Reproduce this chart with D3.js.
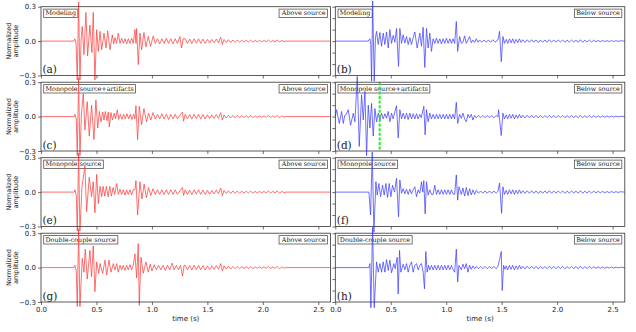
<!DOCTYPE html>
<html><head><meta charset="utf-8">
<script src="https://cdn.jsdelivr.net/npm/d3@7"></script>
<style>body{margin:0;background:#fff}</style></head>
<body>
<script>
// ---------- data (time in s, normalized amplitude) ----------
const traceA=[[0,0],[0.295,0],[0.305,0.02],[0.316,-0.02],[0.327,-0.34],[0.339,0.34],[0.351,-0.34],[0.362,0.02],[0.372,0.127],[0.387,-0.118],[0.405,0.25],[0.420,-0.13],[0.441,0.14],[0.459,-0.10],[0.471,0.25],[0.486,-0.34],[0.502,0.10],[0.517,-0.09],[0.532,0.085],[0.547,-0.075],[0.568,0.07],[0.586,-0.06],[0.601,0.09],[0.622,-0.075],[0.643,0.055],[0.655,-0.025],[0.667,0.03],[0.682,-0.02],[0.697,0.07],[0.712,-0.02],[0.727,0.025],[0.742,-0.02],[0.757,0.02],[0.772,-0.025],[0.787,0.02],[0.802,-0.02],[0.817,0.025],[0.832,-0.02],[0.847,0.10],[0.856,-0.02],[0.862,0.11],[0.877,-0.205],[0.892,0.07],[0.907,-0.075],[0.928,0.075],[0.946,-0.05],[0.967,0.04],[0.988,-0.045],[1.012,0.045],[1.03,-0.02],[1.05,0.02],[1.07,-0.025],[1.09,0.02],[1.11,-0.02],[1.13,0.025],[1.15,-0.02],[1.17,0.02],[1.19,-0.025],[1.21,0.02],[1.23,-0.02],[1.252,0.04],[1.267,-0.06],[1.282,0.02]];
const traceC=[[0,0],[0.300,0],[0.306,0.02],[0.318,-0.02],[0.327,-0.34],[0.339,0.34],[0.351,-0.34],[0.365,0.03],[0.381,0.20],[0.396,-0.115],[0.417,0.13],[0.435,-0.17],[0.456,0.10],[0.477,-0.20],[0.495,0.145],[0.511,-0.10],[0.526,0.045],[0.541,-0.045],[0.556,0.04],[0.568,-0.03],[0.580,0.045],[0.595,-0.035],[0.607,0.04],[0.616,-0.09],[0.631,0.035],[0.645,-0.03],[0.660,0.03],[0.672,-0.02],[0.688,0.06],[0.700,-0.025],[0.715,0.02],[0.730,-0.025],[0.745,0.02],[0.760,-0.02],[0.775,0.025],[0.790,-0.02],[0.805,0.02],[0.820,-0.025],[0.835,0.02],[0.847,-0.02],[0.856,0.095],[0.871,-0.20],[0.886,0.09],[0.907,-0.07],[0.928,0.07],[0.952,-0.045],[0.970,0.03],[0.990,-0.03],[1.010,0.035],[1.03,-0.02],[1.05,0.02],[1.07,-0.02],[1.09,0.025],[1.11,-0.02],[1.13,0.02],[1.15,-0.025],[1.17,0.02],[1.19,-0.02],[1.21,0.02],[1.23,-0.02],[1.255,0.015],[1.276,0.04],[1.285,-0.04]];
const traceE=[[0,0],[0.300,0],[0.306,0.02],[0.318,-0.03],[0.327,-0.34],[0.339,0.34],[0.351,-0.34],[0.370,0.05],[0.396,0.23],[0.411,-0.17],[0.435,0.13],[0.456,-0.04],[0.471,0.09],[0.486,-0.18],[0.502,0.155],[0.517,-0.10],[0.532,0.05],[0.547,-0.04],[0.560,0.05],[0.575,-0.035],[0.590,0.05],[0.605,-0.04],[0.620,0.05],[0.635,-0.035],[0.650,0.04],[0.665,-0.02],[0.682,0.075],[0.697,-0.02],[0.712,0.025],[0.727,-0.02],[0.742,0.02],[0.757,-0.025],[0.772,0.02],[0.787,-0.02],[0.802,0.02],[0.817,-0.025],[0.832,0.02],[0.847,0.02],[0.856,0.10],[0.871,-0.20],[0.892,0.09],[0.910,-0.06],[0.930,0.07],[0.950,-0.05],[0.970,0.04],[0.990,-0.03],[1.01,0.03],[1.03,-0.02],[1.05,0.02],[1.07,-0.02],[1.09,0.02],[1.11,-0.02],[1.13,0.02],[1.15,-0.02],[1.17,0.02],[1.19,-0.02],[1.21,0.02],[1.23,-0.02],[1.255,0.015],[1.276,0.04],[1.285,-0.03]];
const traceG=[[0,0],[0.297,0],[0.306,0.02],[0.318,-0.03],[0.327,-0.34],[0.339,0.34],[0.351,-0.34],[0.372,0.08],[0.387,-0.04],[0.399,0.16],[0.417,-0.10],[0.441,0.15],[0.456,-0.08],[0.471,0.19],[0.486,-0.21],[0.502,0.05],[0.520,-0.05],[0.532,0.035],[0.556,-0.05],[0.577,0.065],[0.592,-0.065],[0.613,0.065],[0.631,-0.04],[0.652,0.035],[0.667,-0.02],[0.682,0.035],[0.697,-0.04],[0.712,0.02],[0.727,-0.02],[0.742,0.02],[0.757,-0.025],[0.772,0.02],[0.787,-0.02],[0.802,0.025],[0.817,-0.02],[0.832,0.02],[0.847,0.12],[0.862,-0.09],[0.877,0.21],[0.886,-0.33],[0.901,0.09],[0.922,-0.05],[0.946,0.05],[0.967,-0.04],[0.985,0.03],[1.00,-0.03],[1.02,0.025],[1.04,-0.02],[1.06,0.02],[1.08,-0.02],[1.10,0.02],[1.12,-0.025],[1.14,0.02],[1.16,-0.02],[1.183,0.04],[1.20,-0.02],[1.22,0.02],[1.24,-0.02],[1.258,0.02],[1.276,-0.075],[1.29,0.02]];
const redTail=[[1.30,0.02],[1.32,-0.02],[1.34,0.018],[1.36,-0.022],[1.38,0.02],[1.40,-0.018],[1.42,0.02],[1.44,-0.02],[1.46,0.018],[1.48,-0.02],[1.50,0.015],[1.52,-0.018],[1.54,0.015],[1.56,-0.015],[1.58,0.018],[1.60,-0.015],[1.62,0.035],[1.635,-0.03],[1.65,0.015],[1.67,-0.012],[1.69,0.012],[1.71,-0.012],[1.73,0.01],[1.75,-0.01],[1.77,0.01],[1.79,-0.01],[1.81,0.008],[1.83,-0.008],[1.85,0.008],[1.87,-0.008],[1.89,0.008],[1.91,-0.008],[1.93,0.006],[1.95,-0.006],[1.97,0.006],[1.99,-0.006],[2.01,0.006],[2.03,-0.006],[2.05,0.01],[2.07,-0.008],[2.09,0.006],[2.11,-0.006],[2.13,0.01],[2.15,-0.01],[2.17,0.006],[2.19,-0.004],[2.21,0],[2.61,0]];

const traceB=[[0,0],[0.297,0],[0.312,0.02],[0.320,-0.03],[0.327,-0.35],[0.337,0.35],[0.351,-0.35],[0.362,0.03],[0.372,0.085],[0.387,-0.03],[0.402,0.075],[0.417,-0.045],[0.432,0.07],[0.447,-0.03],[0.462,0.08],[0.477,-0.06],[0.492,0.10],[0.507,-0.02],[0.522,0.05],[0.537,-0.01],[0.552,0.11],[0.570,-0.22],[0.582,0.11],[0.597,-0.02],[0.612,0.055],[0.627,-0.017],[0.642,0.04],[0.657,-0.03],[0.672,0.03],[0.687,-0.03],[0.702,0.03],[0.717,0.08],[0.738,-0.06],[0.762,0.07],[0.777,-0.045],[0.792,0.12],[0.807,-0.23],[0.822,0.11],[0.837,-0.06],[0.852,0.07],[0.867,-0.09],[0.882,0.02],[0.897,-0.02],[0.912,0.025],[0.927,-0.02],[0.942,0.02],[0.957,-0.025],[0.972,0.02],[0.987,-0.02],[1.002,0.025],[1.017,-0.02],[1.032,0.02],[1.047,-0.02],[1.061,0.02],[1.076,-0.02],[1.091,0.17],[1.103,-0.09],[1.121,0.04],[1.136,-0.02],[1.151,-0.01],[1.166,0.045],[1.181,-0.02],[1.196,0.01],[1.211,0.04],[1.226,-0.015],[1.241,0.01],[1.256,-0.012],[1.271,0.02],[1.286,-0.01],[1.301,0.01],[1.32,-0.01],[1.34,0.01],[1.36,-0.01],[1.38,0.01],[1.40,-0.01],[1.42,0.012],[1.44,-0.01],[1.466,0.01],[1.481,0.085],[1.496,-0.18],[1.511,0.04],[1.525,-0.02],[1.541,0.015]];
const traceD=[[0,0],[0.012,0.06],[0.036,-0.06],[0.057,0.045],[0.072,-0.06],[0.085,0.01],[0.096,0.015],[0.117,0.06],[0.138,-0.075],[0.162,0.03],[0.177,-0.045],[0.198,0.35],[0.216,-0.26],[0.237,0.19],[0.252,-0.03],[0.267,0.22],[0.282,-0.34],[0.297,0.10],[0.312,-0.10],[0.327,0.115],[0.342,-0.17],[0.357,0.07],[0.372,-0.045],[0.387,0.03],[0.402,-0.03],[0.417,0.03],[0.432,-0.02],[0.447,0.025],[0.462,-0.015],[0.477,0.045],[0.492,-0.045],[0.507,0.03],[0.522,-0.02],[0.537,0.045],[0.552,0.095],[0.567,-0.185],[0.582,0.06],[0.597,-0.02],[0.612,0.03],[0.627,-0.02],[0.642,0.03],[0.657,-0.025],[0.672,0.03],[0.687,-0.02],[0.702,0.025],[0.717,-0.02],[0.732,0.025],[0.747,-0.02],[0.762,0.02],[0.775,-0.01],[0.798,0.09],[0.810,-0.16],[0.822,0.06],[0.837,-0.045],[0.852,0.03],[0.867,-0.02],[0.882,0.02],[0.897,-0.02],[0.912,0.02],[0.927,-0.02],[0.942,0.02],[0.957,-0.02],[0.972,0.02],[0.987,-0.02],[1.002,0.02],[1.017,-0.02],[1.032,0.02],[1.047,-0.02],[1.061,0.02],[1.076,-0.02],[1.091,0.125],[1.103,-0.06],[1.121,0.02],[1.136,-0.015],[1.151,0.03],[1.166,-0.02],[1.181,-0.045],[1.196,0.02],[1.211,-0.01],[1.226,0.02],[1.241,-0.03],[1.256,0.01],[1.271,-0.01],[1.29,0.01],[1.31,-0.01],[1.33,0.01],[1.35,-0.01],[1.37,0.01],[1.39,-0.01],[1.41,0.01],[1.43,-0.01],[1.45,0.01],[1.466,-0.005],[1.472,0.06],[1.496,-0.165],[1.511,0.03],[1.525,-0.02],[1.541,0.015]];
const traceF=[[0,0],[0.303,0],[0.318,-0.2],[0.333,0.35],[0.348,-0.35],[0.366,0.09],[0.378,-0.026],[0.393,0.075],[0.408,-0.04],[0.426,0.06],[0.441,-0.026],[0.456,0.075],[0.471,-0.046],[0.486,0.075],[0.501,-0.04],[0.516,0.06],[0.534,0.0],[0.552,0.12],[0.570,-0.215],[0.582,0.105],[0.597,-0.01],[0.612,0.03],[0.627,-0.015],[0.642,0.025],[0.657,-0.02],[0.672,0.025],[0.687,-0.015],[0.702,0.02],[0.717,0.046],[0.732,-0.04],[0.747,0.02],[0.762,-0.01],[0.777,0.09],[0.788,0.0],[0.798,0.10],[0.810,-0.19],[0.822,0.09],[0.837,-0.026],[0.852,0.02],[0.867,-0.02],[0.882,-0.02],[0.897,0.06],[0.912,-0.02],[0.927,0.02],[0.942,-0.02],[0.957,0.02],[0.972,-0.02],[0.987,0.02],[1.002,-0.02],[1.017,0.02],[1.032,-0.02],[1.047,0.02],[1.061,-0.015],[1.076,-0.02],[1.091,0.15],[1.103,-0.07],[1.115,0.046],[1.136,-0.02],[1.151,0.035],[1.166,-0.035],[1.181,0.04],[1.196,-0.03],[1.211,0.03],[1.226,-0.025],[1.241,0.02],[1.256,-0.02],[1.271,0.015],[1.29,-0.01],[1.31,0.01],[1.33,-0.01],[1.35,0.01],[1.37,-0.01],[1.39,0.01],[1.41,-0.01],[1.43,0.01],[1.45,-0.01],[1.466,0.005],[1.481,0.08],[1.499,-0.185],[1.511,0.046],[1.525,-0.02],[1.541,0.015]];
const traceH=[[0,0],[0.303,0],[0.312,0.035],[0.321,-0.35],[0.336,0.35],[0.351,-0.35],[0.372,0.05],[0.387,-0.04],[0.402,0.035],[0.417,-0.04],[0.432,0.05],[0.447,-0.04],[0.462,0.07],[0.477,-0.025],[0.492,0.065],[0.507,-0.045],[0.528,0.035],[0.540,-0.01],[0.558,0.09],[0.567,-0.23],[0.579,0.15],[0.591,-0.04],[0.612,0.03],[0.627,-0.02],[0.642,0.035],[0.657,-0.04],[0.672,0.02],[0.687,0.05],[0.702,-0.04],[0.717,0.02],[0.732,0.035],[0.747,-0.02],[0.762,0.02],[0.777,0.035],[0.792,-0.04],[0.804,-0.185],[0.816,0.14],[0.828,-0.04],[0.84,0.02],[0.852,-0.02],[0.867,0.02],[0.882,-0.02],[0.897,0.02],[0.912,-0.02],[0.927,0.02],[0.942,-0.02],[0.957,0.02],[0.972,-0.02],[0.987,0.02],[1.002,-0.02],[1.017,0.02],[1.032,-0.02],[1.047,0.02],[1.061,-0.015],[1.076,-0.04],[1.091,0.16],[1.103,-0.125],[1.115,0.02],[1.136,-0.02],[1.151,0.03],[1.166,-0.01],[1.181,0.035],[1.196,-0.04],[1.211,0.02],[1.226,-0.015],[1.241,0.015],[1.256,-0.01],[1.271,0.01],[1.29,-0.01],[1.31,0.01],[1.33,-0.01],[1.35,0.01],[1.37,-0.01],[1.39,0.01],[1.41,-0.01],[1.43,0.01],[1.45,-0.01],[1.466,0.01],[1.481,0.07],[1.496,0.14],[1.505,-0.2],[1.517,0.02],[1.530,-0.015],[1.541,0.015]];
const blueTail=[[1.555,-0.02],[1.57,0.02],[1.585,-0.015],[1.60,0.02],[1.615,-0.02],[1.63,0.015],[1.645,-0.015],[1.66,0.02],[1.675,-0.012],[1.69,0.012],[1.71,-0.012],[1.73,0.012],[1.75,-0.01],[1.77,0.012],[1.79,-0.01],[1.81,0.01],[1.83,-0.012],[1.85,0.01],[1.87,-0.01],[1.89,0.01],[1.91,-0.01],[1.93,0.012],[1.95,-0.01],[1.97,0.01],[1.99,-0.01],[2.01,0.01],[2.03,-0.008],[2.05,0.01],[2.07,-0.01],[2.09,0.008],[2.11,-0.008],[2.13,0.01],[2.15,-0.008],[2.17,0.008],[2.19,-0.01],[2.21,0.012],[2.23,-0.01],[2.25,0.008],[2.27,-0.008],[2.29,0.01],[2.31,-0.008],[2.33,0.008],[2.35,-0.006],[2.37,0.006],[2.39,-0.006],[2.41,0.006],[2.43,-0.005],[2.45,0.005],[2.47,-0.005],[2.49,0.005],[2.51,-0.004],[2.53,0.004],[2.55,-0.003],[2.57,0.003],[2.61,0]];

const panelLetters=["a","b","c","d","e","f","g","h"];
const leftTitles=["Modeling","Modeling","Monopole source+artifacts","Monopole source+artifacts","Monopole source","Monopole source","Double-couple source","Double-couple source"];
const rightTitles=["Above source","Below source","Above source","Below source","Above source","Below source","Above source","Below source"];
const traces=[traceA.concat(redTail),traceB.concat(blueTail),traceC.concat(redTail),traceD.concat(blueTail),traceE.concat(redTail),traceF.concat(blueTail),traceG.concat(redTail),traceH.concat(blueTail)];
const markerTime=0.40;            // green dashed line in panel (d)
const xDomain=[0,2.61];
const yDomain=[-0.3,0.3];
const xTicks=[0,0.5,1.0,1.5,2.0,2.5];
const xTickLabels=["0.0","0.5","1.0","1.5","2.0","2.5"];
const yTicksLeft=[-0.3,0,0.3];
const yTickLabels=["\u22120.3","0.0","0.3"];
const yTicksRight=[-0.3,-0.2,-0.1,0,0.1,0.2,0.3];
const xLabel="time (s)";
const yLabelLines=["Normalized","amplitude"];

// ---------- layout ----------
const colX=[41,335.3], rowY=[6.7,82.2,157.7,233.2], pw=289.5, ph=68.8;
const colors=["#ff4040","#4040ff"];
const svg=d3.select("body").append("svg").attr("width",636).attr("height",332)
  .style("font-family","'DejaVu Sans', sans-serif");
const serif="'DejaVu Serif', serif";

traces.forEach((data,i)=>{
  const col=i%2,row=Math.floor(i/2);
  const gx=colX[col],gy=rowY[row];
  const x=d3.scaleLinear().domain(xDomain).range([gx,gx+pw]);
  const y=d3.scaleLinear().domain(yDomain).range([gy+ph,gy]);
  const g=svg.append("g");

  // boxes (under lines)
  const tL=g.append("text").attr("x",gx+4.5).attr("y",gy+8.6).attr("font-family",serif)
    .attr("font-size",6.4).attr("fill","#222").text(leftTitles[i]);
  const bL=tL.node().getBBox();
  g.insert("rect","text").attr("x",bL.x-1.8).attr("y",gy+2.4).attr("width",bL.width+3.6).attr("height",8.4)
    .attr("fill","#fff").attr("stroke","#555").attr("stroke-width",0.8);
  const tR=g.append("text").attr("x",gx+pw-5).attr("y",gy+8.6).attr("text-anchor","end").attr("font-family",serif)
    .attr("font-size",6.4).attr("fill","#222").text(rightTitles[i]);
  const bR=tR.node().getBBox();
  g.insert("rect","text").attr("x",bR.x-1.8).attr("y",gy+2.4).attr("width",bR.width+3.6).attr("height",8.4)
    .attr("fill","#fff").attr("stroke","#555").attr("stroke-width",0.8);
  g.append("text").attr("x",gx+1.5).attr("y",gy+ph-2.5).attr("font-family",serif).attr("font-size",10.5)
    .attr("fill","#222").text("("+panelLetters[i]+")");

  // trace
  g.append("path").datum(data).attr("d",d3.line().x(d=>x(d[0])).y(d=>y(d[1])))
    .attr("fill","none").attr("stroke",colors[col]).attr("stroke-width",0.75).attr("stroke-linejoin","round");

  if(i===3){
    g.append("line").attr("x1",x(markerTime)).attr("x2",x(markerTime)).attr("y1",y(0.3)).attr("y2",y(-0.3))
      .attr("stroke","#22ee22").attr("stroke-width",2).attr("stroke-dasharray","3,1.6");
  }

  // frame
  g.append("rect").attr("x",gx).attr("y",gy).attr("width",pw).attr("height",ph)
    .attr("fill","none").attr("stroke","#333").attr("stroke-width",0.8);

  // x axis
  const xa=d3.axisBottom(x).tickValues(xTicks).tickSize(3).tickPadding(2)
    .tickFormat((d,k)=>row===3?xTickLabels[k]:"");
  const xg=g.append("g").attr("transform",`translate(0,${gy+ph})`).call(xa);
  // y axis
  const ya=d3.axisLeft(y).tickValues(col===0?yTicksLeft:yTicksRight).tickSize(3).tickPadding(2)
    .tickFormat((d,k)=>col===0?yTickLabels[k]:"");
  const yg=g.append("g").attr("transform",`translate(${gx},0)`).call(ya);
  [xg,yg].forEach(a=>{
    a.select(".domain").remove();
    a.selectAll("line").attr("stroke","#333").attr("stroke-width",0.7);
    a.selectAll("text").attr("font-size",7).attr("fill","#222").style("font-family","'DejaVu Sans', sans-serif");
  });

  if(col===0){
    const cy=gy+ph/2;
    yLabelLines.forEach((s,k)=>{
      g.append("text").attr("transform",`translate(${11.2+k*7.2},${cy}) rotate(-90)`).attr("text-anchor","middle")
        .attr("font-size",6.5).attr("fill","#222").text(s);
    });
  }
  if(row===3){
    g.append("text").attr("x",gx+pw/2).attr("y",321).attr("text-anchor","middle")
      .attr("font-size",7).attr("fill","#222").text(xLabel);
  }
});
</script>
</body></html>
